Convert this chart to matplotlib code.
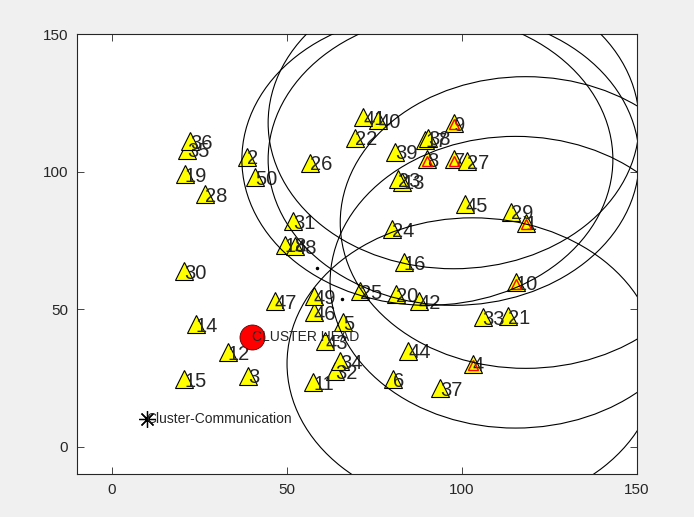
import numpy as np
import matplotlib
matplotlib.use("Agg")
import matplotlib.pyplot as plt
from matplotlib.patches import Circle

# sensor node positions, node i is at index i-1
node_x = [118.3, 38.6, 38.9, 103.1, 66.1, 80.5, 97.7, 90.2, 97.7, 115.4,
          57.6, 33.1, 83.0, 24.0, 20.8, 83.5, 89.6, 49.5, 20.9, 81.1,
          113.1, 69.6, 81.9, 80.1, 71.0, 56.7, 101.6, 26.6, 114.0, 20.8,
          51.9, 63.9, 106.0, 65.3, 21.5, 22.5, 93.9, 90.5, 81.0, 76.2,
          71.9, 87.7, 61.0, 84.7, 101.0, 57.8, 46.6, 52.3, 57.8, 40.9]
node_y = [81.5, 105.4, 25.8, 30.2, 45.3, 24.7, 104.4, 104.4, 117.7, 59.8,
          23.6, 34.5, 96.4, 44.6, 24.7, 67.0, 111.6, 73.5, 99.0, 55.5,
          47.5, 112.3, 97.2, 79.0, 56.5, 103.3, 103.7, 91.7, 85.5, 63.8,
          81.9, 27.6, 47.1, 31.2, 108.0, 111.0, 21.2, 112.3, 107.2, 118.8,
          119.9, 53.0, 38.4, 34.9, 88.1, 49.0, 52.9, 72.8, 54.8, 97.9]

# cluster head node numbers and their communication range
heads = [9, 8, 7, 1, 10, 4]
radius = 53

# sink / base station
sink = (40, 40)
comm_pt = (10, 10)
dots_x = [58.6, 65.7]
dots_y = [65.0, 53.6]

plt.rcParams['font.family'] = ['Liberation Sans', 'DejaVu Sans']

fig = plt.figure(figsize=(6.94, 5.17), dpi=100, facecolor='#f0f0f0')
ax = fig.add_axes([0.1105, 0.0826, 0.8069, 0.8516])
ax.set_facecolor('white')

for i in range(len(node_x)):
    ax.plot(node_x[i], node_y[i], '^', ms=13, mfc='#ffff00', mec='k',
            mew=0.8, zorder=2)
    ax.text(node_x[i], node_y[i] - 0.8, str(i + 1), fontsize=14.5,
            color='#262626', ha='left', va='center', zorder=3)

for h in heads:
    ax.plot(node_x[h - 1], node_y[h - 1] - 0.5, '^', ms=7, mfc='none',
            mec='red', mew=1.0, zorder=4)
    ax.add_patch(Circle((node_x[h - 1], node_y[h - 1]), radius, fill=False,
                        ec='k', lw=0.8, zorder=5))

ax.plot(dots_x, dots_y, '.', color='k', ms=3, zorder=5)

ax.plot(sink[0], sink[1], 'o', ms=18, mfc='red', mec='#600000', mew=0.6,
        zorder=4)
ax.text(sink[0], sink[1], 'CLUSTER HEAD', fontsize=10, color='#262626',
        ha='left', va='center', zorder=6)

ax.plot(comm_pt[0], comm_pt[1], marker=(8, 2, 0), ms=12, color='k',
        mew=0.9, zorder=4)
ax.text(comm_pt[0], comm_pt[1], 'Cluster-Communication', fontsize=10,
        color='#262626', ha='left', va='center', zorder=6)

ax.set_xlim(-10, 150)
ax.set_ylim(-10, 150)
ax.set_xticks([0, 50, 100, 150])
ax.set_yticks([0, 50, 100, 150])
ax.tick_params(direction='in', length=5, width=0.6, labelsize=11,
               colors='#262626', top=True, right=True, pad=6)
for s in ax.spines.values():
    s.set_color('#262626')
    s.set_linewidth(0.8)

fig.savefig('out.png', dpi=100, facecolor=fig.get_facecolor())
